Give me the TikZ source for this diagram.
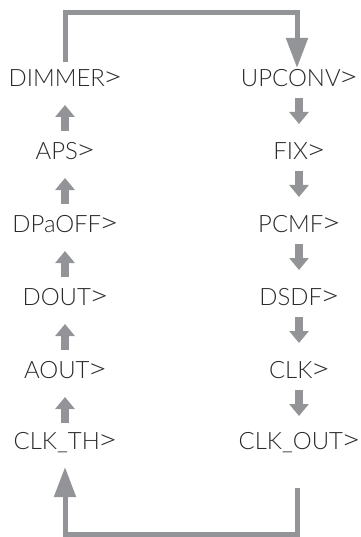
\documentclass[tikz,border=0pt]{standalone}
\usepackage{graphicx}
\usepackage{fontspec}
\IfFontExistsTF{Lato Light}
  {\setmainfont{Lato}[UprightFont=* Light]}
  {\setmainfont{Liberation Sans}}
\usetikzlibrary{arrows.meta}
\definecolor{flowgrey}{HTML}{929497}
\definecolor{labelgrey}{HTML}{2A2A2A}
% wide menu chevron, set tight against the preceding letter
\newcommand{\menugt}{\kern-2.2pt\scalebox{1.45}[1.15]{>}\kern-1.5pt}
\begin{document}
\begin{tikzpicture}[x=1bp,y=-1bp,
  menu/.style={inner sep=0pt, text=labelgrey, font=\fontsize{24}{26}\selectfont},
  stepup/.style={draw=flowgrey, line width=8bp,
    -{Triangle[width=19bp,length=12bp,fill=flowgrey]},
    shorten <=20bp, shorten >=27bp},
  loopline/.style={draw=flowgrey, line width=5bp,
    -{Triangle[width=21bp,length=30bp,fill=flowgrey]}}]
\useasboundingbox (0,0) rectangle (360,537);

% left column (runs upwards)
\node[menu] (dimmer) at (65,78)  {DIMMER\menugt};
\node[menu] (aps)    at (65,151) {APS\menugt};
\node[menu] (dpaoff) at (65,224) {DPaOFF\menugt};
\node[menu] (dout)   at (65,297) {DOUT\menugt};
\node[menu] (aout)   at (65,370) {AOUT\menugt};
\node[menu] (clkth)  at (65,443) {CLK\_TH\menugt};

% right column (runs downwards)
\node[menu] (upconv) at (299,78)  {UPCONV\menugt};
\node[menu] (fix)    at (299,151) {FIX\menugt};
\node[menu] (pcmf)   at (299,224) {PCMF\menugt};
\node[menu] (dsdf)   at (299,297) {DSDF\menugt};
\node[menu] (clk)    at (299,370) {CLK\menugt};
\node[menu] (clkout) at (299,443) {CLK\_OUT\menugt};

% short step arrows
\draw[stepup] (aps.center)    -- (dimmer.center);
\draw[stepup] (dpaoff.center) -- (aps.center);
\draw[stepup] (dout.center)   -- (dpaoff.center);
\draw[stepup] (aout.center)   -- (dout.center);
\draw[stepup] (clkth.center)  -- (aout.center);

\draw[stepup] (upconv.center) -- (fix.center);
\draw[stepup] (fix.center)    -- (pcmf.center);
\draw[stepup] (pcmf.center)   -- (dsdf.center);
\draw[stepup] (dsdf.center)   -- (clk.center);
\draw[stepup] (clk.center)    -- (clkout.center);

% return loops between the columns
\coordinate (topL) at (65,12.5);
\coordinate (topR) at (297,12.5);
\coordinate (botL) at (65,534);
\coordinate (botR) at (297,534);

\draw[loopline, shorten <=16bp, shorten >=10bp]
  (dimmer.center) -- (topL) -- (topR) -- (topR |- upconv.center);
\draw[loopline, shorten <=45bp, shorten >=24bp]
  (botR |- clkout.center) -- (botR) -- (botL) -- (clkth.center);
\end{tikzpicture}
\end{document}
